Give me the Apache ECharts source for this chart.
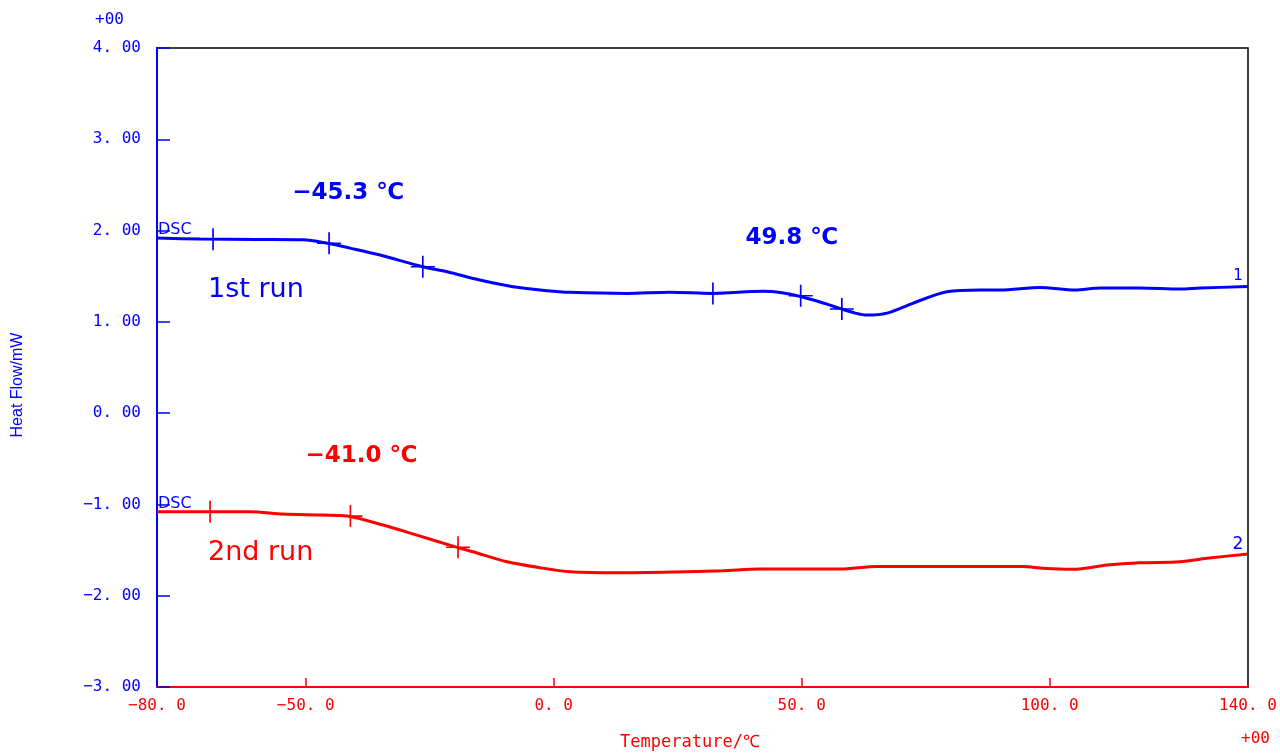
<!DOCTYPE html>
<html>
<head>
<meta charset="utf-8">
<script src="https://cdn.jsdelivr.net/npm/echarts@6/dist/echarts.min.js"></script>
<style>
  html, body { margin: 0; padding: 0; background: #fff; }
  #chart { width: 1280px; height: 753px; }
</style>
</head>
<body>
<div id="chart"></div>
<script>
// DSC heating curves: temperature (°C) vs heat flow (mW)
const run1Temp = [-80, -71.3, -60.0, -50.5, -46.1, -41.1, -35.0, -26.4, -21.5, -14.9, -8.2, -1.4, 3.3, 14.8, 23.4, 32.1, 42.2, 46.0, 49.3, 53.7, 57.7, 60.8, 63.2, 67.2, 72.5, 79.3, 86.0, 90.0, 98.1, 105.1, 110.2, 118.2, 126.3, 130.3, 140];
const run1Heat = [1.918, 1.907, 1.903, 1.899, 1.866, 1.808, 1.732, 1.604, 1.549, 1.458, 1.384, 1.341, 1.323, 1.312, 1.323, 1.312, 1.334, 1.318, 1.283, 1.217, 1.148, 1.096, 1.074, 1.096, 1.206, 1.330, 1.348, 1.348, 1.376, 1.348, 1.370, 1.370, 1.359, 1.370, 1.387];

const run2Temp = [-80, -69.3, -61.2, -54.6, -46.5, -41.7, -34.4, -27.6, -19.5, -16.3, -9.4, -2.8, 3.3, 13.4, 24.1, 34.1, 41.6, 57.7, 65.2, 86.0, 94.6, 98.7, 104.7, 111.6, 118.2, 126.3, 131.7, 140];
const run2Heat = [-1.080, -1.080, -1.080, -1.105, -1.116, -1.127, -1.226, -1.336, -1.470, -1.518, -1.628, -1.693, -1.737, -1.748, -1.740, -1.726, -1.708, -1.708, -1.680, -1.680, -1.680, -1.700, -1.711, -1.664, -1.639, -1.628, -1.590, -1.543];

// Onset / endset analysis points
const run1MarkTemp = [-68.7, -26.4, 32.1, 58.1];
const run1MarkHeat = [1.905, 1.604, 1.312, 1.140];
const run2MarkTemp = [-69.3, -19.3];
const run2MarkHeat = [-1.080, -1.470];

// Glass transition midpoints
const run1MidTemp = [-45.3, 49.8];
const run1MidHeat = [1.862, 1.285];
const run2MidTemp = [-41.0];
const run2MidHeat = [-1.128];

// Axis ticks and labels
const yTickValues = [-3, -2, -1, 0, 1, 2, 3, 4];
const xTickValues = [-50, 0, 50, 100];
const xLabelValues = [-80, -50, 0, 50, 100, 140];

const BLUE = '#0000ff';
const RED = '#ff0000';
const MONO = "'DejaVu Sans Mono', monospace";

const zip = (a, b) => a.map((v, i) => [v, b[i]]);
const CROSS = 'path://M12,0L12,22M0,11L24,11';
const fmtMinus = s => s.replace('-', '\u2212');

const chart = echarts.init(document.getElementById('chart'), null, { renderer: 'canvas' });

const midLabelOffsets1 = [[19, -50], [-9, -58]];
const midLabelOffsets2 = [[11, -60]];

const crossStyle = color => ({ color: 'rgba(0,0,0,0)', borderColor: color, borderWidth: 1.6, opacity: 1 });

const midLabel = (color) => ({
  show: true,
  position: 'inside',
  color: color,
  opacity: 1,
  fontFamily: "'DejaVu Sans', sans-serif",
  fontWeight: 'bold',
  fontSize: 23,
  formatter: p => fmtMinus(p.value[0].toFixed(1)) + ' \u2103'
});

chart.setOption({
  animation: false,
  backgroundColor: '#ffffff',
  grid: {
    left: 157, right: 32, top: 48, bottom: 66,
    show: true, borderColor: '#000', borderWidth: 1.5, backgroundColor: 'transparent'
  },
  xAxis: {
    type: 'value', min: -80, max: 140,
    axisLine: { show: true, onZero: false, lineStyle: { color: RED, width: 2 } },
    axisTick: { show: true, inside: true, length: 9, customValues: xTickValues, lineStyle: { color: RED, width: 1.5 } },
    axisLabel: {
      customValues: xLabelValues, color: RED, fontFamily: MONO, fontSize: 16, margin: 11,
      formatter: v => fmtMinus(v.toFixed(1).replace('.', '. '))
    },
    splitLine: { show: false }
  },
  yAxis: {
    type: 'value', min: -3, max: 4, interval: 1,
    axisLine: { show: true, onZero: false, lineStyle: { color: BLUE, width: 2 } },
    axisTick: { show: true, inside: true, length: 13, customValues: yTickValues, lineStyle: { color: BLUE, width: 1.5 } },
    axisLabel: {
      customValues: yTickValues, color: BLUE, fontFamily: MONO, fontSize: 16, margin: 16,
      formatter: v => fmtMinus(v.toFixed(2).replace('.', '. '))
    },
    splitLine: { show: false }
  },
  series: [
    {
      name: '1st run', type: 'line', data: zip(run1Temp, run1Heat), smooth: 0.3,
      showSymbol: false, lineStyle: { color: BLUE, width: 3 }, z: 3
    },
    {
      name: '2nd run', type: 'line', data: zip(run2Temp, run2Heat), smooth: 0.3,
      showSymbol: false, lineStyle: { color: RED, width: 3 }, z: 3
    },
    {
      type: 'scatter', data: zip(run1MarkTemp, run1MarkHeat),
      symbol: CROSS, symbolSize: [24, 22], itemStyle: crossStyle(BLUE), z: 4
    },
    {
      type: 'scatter', data: zip(run2MarkTemp, run2MarkHeat),
      symbol: CROSS, symbolSize: [24, 22], itemStyle: crossStyle(RED), z: 4
    },
    {
      type: 'scatter',
      data: zip(run1MidTemp, run1MidHeat).map((d, i) => ({ value: d, label: { offset: midLabelOffsets1[i] } })),
      symbol: CROSS, symbolSize: [24, 22], itemStyle: crossStyle(BLUE),
      label: midLabel(BLUE), z: 4
    },
    {
      type: 'scatter',
      data: zip(run2MidTemp, run2MidHeat).map((d, i) => ({ value: d, label: { offset: midLabelOffsets2[i] } })),
      symbol: CROSS, symbolSize: [24, 22], itemStyle: crossStyle(RED),
      label: midLabel(RED), z: 4
    }
  ],
  graphic: [
    { type: 'text', left: 95, top: 12, style: { text: '+00', fill: BLUE, font: "16px 'DejaVu Sans Mono', monospace" } },
    { type: 'text', left: 1241, top: 731, style: { text: '+00', fill: RED, font: "16px 'DejaVu Sans Mono', monospace" } },
    { type: 'text', x: 18, y: 385, rotation: Math.PI / 2,
      style: { text: 'Heat Flow/mW', fill: BLUE, font: "16px 'Liberation Sans Narrow', 'Liberation Sans', sans-serif", align: 'center', verticalAlign: 'middle' } },
    { type: 'text', x: 690, y: 743,
      style: { text: 'Temperature/\u2103', fill: RED, font: "17px 'DejaVu Sans Mono', monospace", align: 'center', verticalAlign: 'middle' } },
    { type: 'text', x: 158, y: 230, z: 10,
      style: { text: 'DSC', fill: BLUE, font: "16px 'DejaVu Sans', sans-serif", align: 'left', verticalAlign: 'middle' } },
    { type: 'text', x: 158, y: 504, z: 10,
      style: { text: 'DSC', fill: BLUE, font: "16px 'DejaVu Sans', sans-serif", align: 'left', verticalAlign: 'middle' } },
    { type: 'text', x: 208, y: 290,
      style: { text: '1st run', fill: BLUE, font: "27px 'DejaVu Sans', sans-serif", align: 'left', verticalAlign: 'middle' } },
    { type: 'text', x: 208, y: 553,
      style: { text: '2nd run', fill: RED, font: "27px 'DejaVu Sans', sans-serif", align: 'left', verticalAlign: 'middle' } },
    { type: 'text', x: 1238, y: 276,
      style: { text: '1', fill: BLUE, font: "15px 'DejaVu Sans', sans-serif", align: 'center', verticalAlign: 'middle' } },
    { type: 'text', x: 1238, y: 545,
      style: { text: '2', fill: BLUE, font: "17px 'DejaVu Sans', sans-serif", align: 'center', verticalAlign: 'middle' } }
  ]
});
</script>
</body>
</html>
